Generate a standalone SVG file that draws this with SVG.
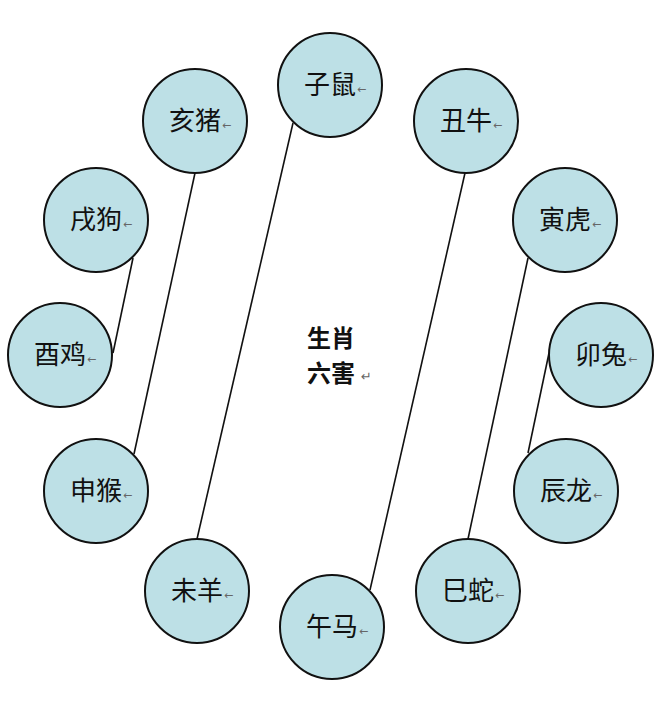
<svg xmlns="http://www.w3.org/2000/svg" width="660" height="709" viewBox="0 0 660 709">
<style>
.bg{fill:#ffffff}
.node circle{fill:#bde0e6;stroke:#111;stroke-width:2}
.node text.l{font-family:"Noto Sans CJK SC","Noto Sans",sans-serif;font-size:26px;fill:#111;text-anchor:middle}
.node text.m{font-family:"DejaVu Sans",sans-serif;font-size:11px;fill:#666}
.links line{stroke:#111;stroke-width:1.6}
.title{font-family:"Noto Sans CJK SC","Noto Sans",sans-serif;font-size:24px;font-weight:bold;fill:#111;text-anchor:middle}
.ret{font-family:"DejaVu Sans",sans-serif;font-size:13px;fill:#666}
</style>
<rect class="bg" x="0" y="0" width="660" height="709"/>
<g id="connectors" class="links">
<line x1="293" y1="123" x2="197" y2="539"/>
<line x1="195" y1="173" x2="134" y2="454"/>
<line x1="133" y1="258" x2="113" y2="353"/>
<line x1="465" y1="173" x2="370" y2="590"/>
<line x1="528" y1="258" x2="468" y2="539"/>
<line x1="549" y1="353" x2="528" y2="453"/>
</g>
<g id="n-zi" class="node"><circle cx="330" cy="85" r="52"/><text class="l" x="330" y="94">子鼠</text><text class="m" x="357" y="93">←</text></g>
<g id="n-chou" class="node"><circle cx="466" cy="121" r="52"/><text class="l" x="466" y="130">丑牛</text><text class="m" x="493" y="129">←</text></g>
<g id="n-yin" class="node"><circle cx="565" cy="220" r="52"/><text class="l" x="565" y="229">寅虎</text><text class="m" x="592" y="228">←</text></g>
<g id="n-mao" class="node"><circle cx="601" cy="355" r="52"/><text class="l" x="601" y="364">卯兔</text><text class="m" x="628" y="363">←</text></g>
<g id="n-chen" class="node"><circle cx="566" cy="491" r="52"/><text class="l" x="566" y="500">辰龙</text><text class="m" x="593" y="499">←</text></g>
<g id="n-si" class="node"><circle cx="468" cy="591" r="52"/><text class="l" x="468" y="600">巳蛇</text><text class="m" x="495" y="599">←</text></g>
<g id="n-wu" class="node"><circle cx="332" cy="627" r="52"/><text class="l" x="332" y="636">午马</text><text class="m" x="359" y="635">←</text></g>
<g id="n-wei" class="node"><circle cx="197" cy="591" r="52"/><text class="l" x="197" y="600">未羊</text><text class="m" x="224" y="599">←</text></g>
<g id="n-shen" class="node"><circle cx="96" cy="491" r="52"/><text class="l" x="96" y="500">申猴</text><text class="m" x="123" y="499">←</text></g>
<g id="n-you" class="node"><circle cx="60" cy="355" r="52"/><text class="l" x="60" y="364">酉鸡</text><text class="m" x="87" y="363">←</text></g>
<g id="n-xu" class="node"><circle cx="96" cy="220" r="52"/><text class="l" x="96" y="229">戌狗</text><text class="m" x="123" y="228">←</text></g>
<g id="n-hai" class="node"><circle cx="195" cy="121" r="52"/><text class="l" x="195" y="130">亥猪</text><text class="m" x="222" y="129">←</text></g>
<g id="center">
<text class="title" x="331" y="347">生肖</text>
<text class="title" x="331" y="382">六害</text>
<text class="ret" x="361" y="381">↵</text>
</g>
</svg>
